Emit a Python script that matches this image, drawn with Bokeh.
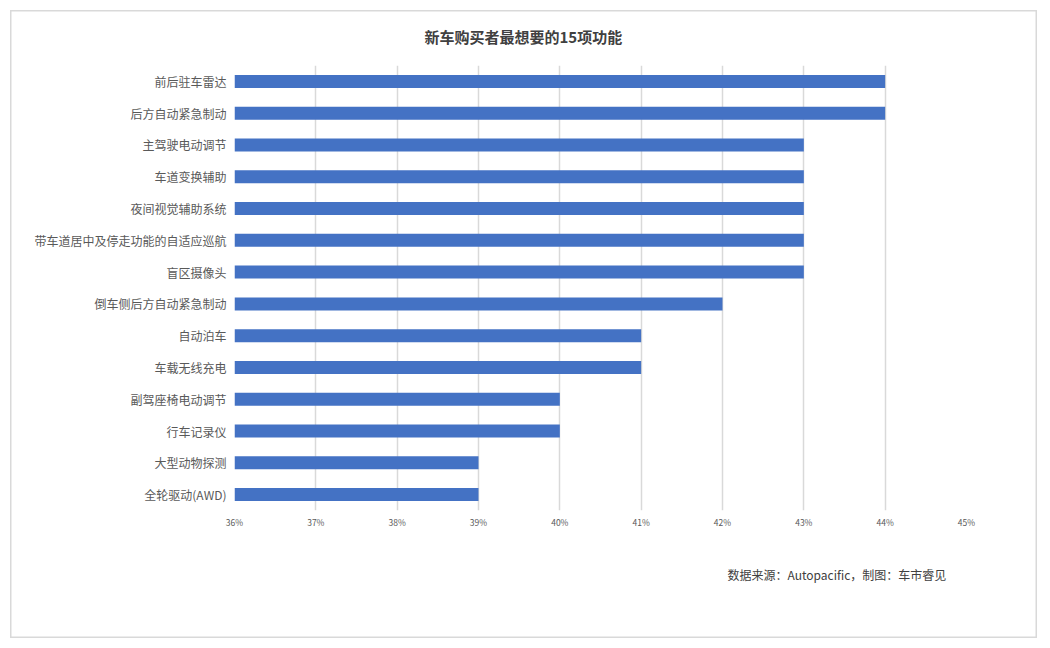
from bokeh.plotting import figure
from bokeh.models import (FactorRange, Range1d, FixedTicker, PrintfTickFormatter, Title)
from bokeh.embed import file_html
from bokeh.resources import INLINE

title_text = "新车购买者最想要的15项功能"
source_text = "数据来源：Autopacific，制图：车市睿见"

features = ["前后驻车雷达", "后方自动紧急制动", "主驾驶电动调节", "车道变换辅助",
            "夜间视觉辅助系统", "带车道居中及停走功能的自适应巡航", "盲区摄像头",
            "倒车侧后方自动紧急制动", "自动泊车", "车载无线充电", "副驾座椅电动调节",
            "行车记录仪", "大型动物探测", "全轮驱动(AWD)"]
percent = [44, 44, 43, 43, 43, 43, 43, 42, 41, 41, 40, 40, 39, 39]
x_ticks = [36, 37, 38, 39, 40, 41, 42, 43, 44, 45]
x_min, x_max = 36, 45

FONT = "Noto Sans CJK SC"

W, H = 1047, 648
FL, FR, FT, FB = 234, 966, 65, 510   # frame edges in canvas pixels

p = figure(width=W, height=H, output_backend="svg", toolbar_location=None,
           y_range=FactorRange(*reversed(features), range_padding=0),
           x_range=Range1d(x_min, x_max),
           min_border_left=FL, min_border_right=W - FR,
           min_border_top=FT, min_border_bottom=H - FB)
p.styles = {"box-shadow": "inset 0 0 0 10px #ffffff, inset 0 0 0 11.5px #d9d9d9",
            "background-color": "#ffffff"}

p.hbar(y=features, right=percent, left=x_min, height=0.41,
       fill_color="#4472C4", line_color=None)

p.outline_line_color = None
p.background_fill_color = "white"
p.border_fill_alpha = 0

p.ygrid.grid_line_color = None
p.xgrid.grid_line_color = "#d9d9d9"
p.xgrid.grid_line_width = 1.5
p.xgrid.ticker = FixedTicker(ticks=x_ticks)

p.xaxis.ticker = FixedTicker(ticks=x_ticks)
p.xaxis.formatter = PrintfTickFormatter(format="%d%%")
p.xaxis.axis_line_color = None
p.xaxis.major_tick_line_color = None
p.xaxis.minor_tick_line_color = None
p.xaxis.major_tick_out = 0
p.xaxis.major_tick_in = 0
p.xaxis.major_label_text_font = FONT
p.xaxis.major_label_text_font_size = "8.5px"
p.xaxis.major_label_text_color = "#595959"
p.xaxis.major_label_standoff = 5

p.yaxis.axis_line_color = None
p.yaxis.major_tick_line_color = None
p.yaxis.minor_tick_line_color = None
p.yaxis.major_tick_out = 0
p.yaxis.major_tick_in = 0
p.yaxis.major_label_text_font = FONT
p.yaxis.major_label_text_font_size = "12px"
p.yaxis.major_label_text_color = "#595959"
p.yaxis.major_label_standoff = 8

# chart title (centred over the whole chart, not the frame)
p.title.text = title_text
p.title.align = "left"
p.title.offset = 424 - FL
p.title.text_font = FONT
p.title.text_font_size = "15px"
p.title.text_font_style = "bold"
p.title.text_color = "#404040"
p.title.standoff = 38

# source note below the chart
p.add_layout(Title(text=source_text, align="left", offset=727 - FL,
                   text_font=FONT, text_font_size="12px", text_font_style="normal",
                   text_color="#404040", standoff=66), "below")

open("out.html", "w").write(file_html(p, INLINE))
